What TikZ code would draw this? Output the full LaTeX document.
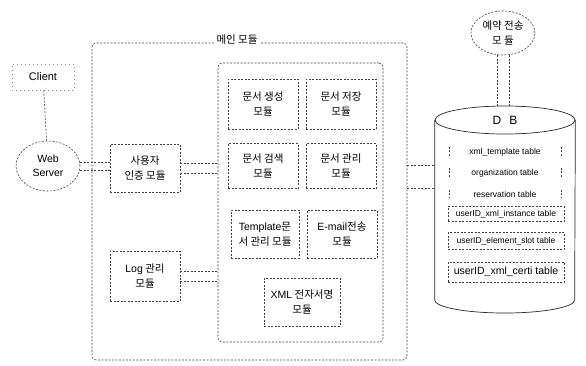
\documentclass[tikz,border=0pt]{standalone}
\usepackage{fontspec}
\setmainfont{Liberation Sans}
\newfontfamily\kr{Noto Sans CJK KR}
\newfontfamily\lat{Liberation Sans}
\usetikzlibrary{shapes.geometric}
\begin{document}
\begin{tikzpicture}[x=1pt,y=-1pt,
  ln/.style={draw=black!75, line width=0.6pt, dash pattern=on 2pt off 1.5pt},
  modbox/.style={ln, rectangle, inner sep=0pt, align=center, font=\kr\fontsize{10.5}{15}\selectfont},
  conn/.style={ln},
  row/.style={inner sep=1pt, minimum width=112pt, font=\fontsize{8.5}{10}\selectfont},
  rowbox/.style={ln, inner sep=1pt, minimum width=116pt},
  dbline/.style={draw=black!85, line width=0.7pt}
]
\useasboundingbox (0,0) rectangle (586,365);

% client and web server
\node[draw=black!45, line width=0.5pt, dash pattern=on 1pt off 3pt, rectangle, minimum width=62pt, minimum height=26pt, font=\fontsize{11}{13}\selectfont] (client) at (43,77) {Client};
\node[ellipse, ln, minimum width=64pt, minimum height=50pt, inner sep=0pt, align=center, font=\fontsize{10.5}{14}\selectfont] (web) at (48,166) {Web\\Server};
\draw[conn] (client) -- (web);

% main module
\node[ln, rectangle, rounded corners=4pt, minimum width=315pt, minimum height=317pt] (outer) at (249.5,201.5) {};
\node[fill=white, inner sep=3pt, font=\kr\fontsize{10.5}{12}\selectfont] (mainlbl) at (237,40) {메인 모듈};
\node[ln, rectangle, rounded corners=4pt, minimum width=165pt, minimum height=279pt] (inner) at (300.5,202.5) {};

\node[modbox, minimum width=70pt, minimum height=48pt] (auth) at (145,168) {사용자\\인증 모듈};
\node[modbox, minimum width=70pt, minimum height=50pt] (log) at (145,276) {{\lat Log} 관리\\모듈};

\node[modbox, minimum width=70pt, minimum height=50pt] (m1) at (263,104) {문서 생성\\모듈};
\node[modbox, minimum width=70pt, minimum height=50pt] (m2) at (341,104) {문서 저장\\모듈};
\node[modbox, minimum width=70pt, minimum height=45pt] (m3) at (263,166) {문서 검색\\모듈};
\node[modbox, minimum width=70pt, minimum height=45pt] (m4) at (341,166) {문서 관리\\모듈};
\node[modbox, minimum width=68pt, minimum height=48pt] (m5) at (265,234) {{\lat Template}문\\서 관리 모듈};
\node[modbox, minimum width=70pt, minimum height=48pt] (m6) at (342,234) {{\lat E-mail}전송\\모듈};
\node[modbox, minimum width=76pt, minimum height=48pt] (m7) at (302,302) {{\lat XML} 전자서명\\모듈};

% connectors inside
\draw[conn] ([yshift=4pt]web.east) -- ([yshift=4pt]web.east -| auth.west);
\draw[conn] ([yshift=-4pt]web.east) -- ([yshift=-4pt]web.east -| auth.west);
\draw[conn] ([yshift=5pt]auth.east) -- ([yshift=5pt]auth.east -| inner.west);
\draw[conn] ([yshift=-5pt]auth.east) -- ([yshift=-5pt]auth.east -| inner.west);
\draw[conn] ([yshift=5pt]log.east) -- ([yshift=5pt]log.east -| inner.west);
\draw[conn] ([yshift=-5pt]log.east) -- ([yshift=-5pt]log.east -| inner.west);

% reservation module
\node[ellipse, ln, minimum width=64pt, minimum height=44pt, inner sep=0pt, align=center, font=\kr\fontsize{10.5}{15}\selectfont] (res) at (503,33) {예약 전송\\모 듈};

% DB cylinder
\node[ellipse, dbline, minimum width=140pt, minimum height=28pt, inner sep=0pt, font=\fontsize{12}{13}\selectfont] (dbtop) at (505,120) {D\hspace{8pt}B};
\draw[dbline] (dbtop.west) -- (dbtop.west |- 0,300) arc[start angle=180, end angle=360, x radius=70pt, y radius=13pt] -- (dbtop.east);

\draw[conn] ([xshift=-6pt]res.south) -- ([xshift=-6pt]res.south |- dbtop.north);
\draw[conn] ([xshift=6pt]res.south) -- ([xshift=6pt]res.south |- dbtop.north);
\draw[conn] (outer.east |- 0,165) -- (dbtop.west |- 0,165);
\draw[conn] (outer.east |- 0,188) -- (dbtop.west |- 0,188);

% tables
\node[row] (r1) at (505,152) {xml\_template table};
\node[row] (r2) at (505,173) {organization table};
\node[row] (r3) at (505,194) {reservation table};
\foreach \r in {r1,r2,r3}{
  \draw[ln] (\r.north west) -- (\r.south west);
  \draw[ln] (\r.north east) -- (\r.south east);
}
\node[rowbox, minimum height=15pt, font=\fontsize{8.5}{10}\selectfont] (r4) at (506,214) {userID\_xml\_instance table};
\node[rowbox, minimum height=17pt, font=\fontsize{8.5}{10}\selectfont] (r5) at (506,241) {userID\_element\_slot table};
\node[rowbox, minimum height=20pt, font=\fontsize{10.5}{12}\selectfont] (r6) at (506,272) {userID\_xml\_certi table};
\end{tikzpicture}
\end{document}
